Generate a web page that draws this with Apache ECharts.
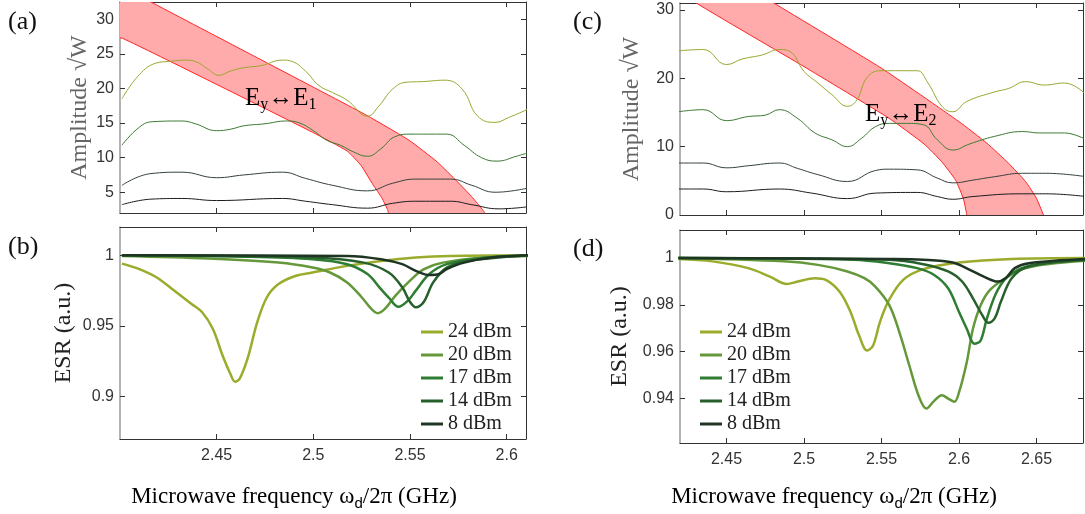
<!DOCTYPE html>
<html>
<head>
<meta charset="utf-8">
<script src="https://cdn.jsdelivr.net/npm/echarts@6/dist/echarts.min.js"></script>
<style>
  html, body { margin: 0; padding: 0; background: #fff; }
  #chart { width: 1085px; height: 514px; }
</style>
</head>
<body>
<div id="chart"></div>
<script>
// ---- data ----
// tick labels
var xTicksL = [2.45, 2.5, 2.55, 2.6];
var xTicksR = [2.45, 2.5, 2.55, 2.6, 2.65];
var yTicksA = [5, 10, 15, 20, 25, 30];
var yTicksB = [0.9, 0.95, 1];
var yTicksC = [0, 10, 20, 30];
var yTicksD = [0.94, 0.96, 0.98, 1];

var powers = ['24 dBm', '20 dBm', '17 dBm', '14 dBm', '8 dBm'];

// (a) amplitude curves  [GHz, sqrt(W)]
var ampA1 = [[2.401,18.5],[2.410,22.0],[2.419,23.7],[2.425,23.9],[2.434,24.1],[2.439,23.9],[2.446,22.7],[2.451,21.9],[2.457,22.5],[2.464,23.0],[2.473,23.3],[2.484,24.1],[2.489,23.9],[2.496,22.5],[2.503,20.4],[2.510,19.4],[2.518,18.2],[2.525,16.3],[2.528,16.0],[2.534,17.5],[2.541,19.9],[2.548,20.9],[2.557,21.0],[2.568,21.2],[2.577,19.9],[2.585,16.0],[2.594,15.1],[2.601,15.8],[2.611,17.0]];
var ampA2 = [[2.401,11.8],[2.410,14.4],[2.417,15.2],[2.432,15.3],[2.439,14.9],[2.450,13.9],[2.457,14.1],[2.464,14.6],[2.475,14.9],[2.486,15.3],[2.493,15.0],[2.500,13.9],[2.507,12.5],[2.514,11.8],[2.521,10.8],[2.528,10.2],[2.535,11.3],[2.542,13.0],[2.550,13.4],[2.560,13.4],[2.569,13.4],[2.578,11.8],[2.587,10.0],[2.595,9.5],[2.605,10.2],[2.611,10.7]];
var ampA3 = [[2.401,6.0],[2.416,7.7],[2.432,7.9],[2.450,7.1],[2.464,7.5],[2.484,7.9],[2.496,7.0],[2.510,6.0],[2.528,5.2],[2.541,6.3],[2.553,6.9],[2.571,6.9],[2.582,6.0],[2.594,5.0],[2.611,5.6]];
var ampA4 = [[2.401,3.2],[2.416,4.0],[2.432,4.1],[2.450,3.8],[2.484,4.1],[2.496,3.7],[2.510,3.2],[2.528,2.7],[2.541,3.4],[2.553,3.7],[2.571,3.7],[2.582,3.2],[2.596,2.6],[2.611,2.9]];
// (a) E_y <-> E_1 band edges
var bandAUpper = [[2.39,36.5],[2.416,32.5],[2.5264,16.3],[2.5496,12.5],[2.564,9.4],[2.5746,6.5],[2.5818,4.4],[2.588,2.3],[2.590,1.0]];
var bandALower = [[2.39,27.8],[2.4014,27.24],[2.4996,13.67],[2.5175,10.95],[2.5246,8.9],[2.5309,6.07],[2.5354,4.2],[2.5386,2.33],[2.5395,1.0]];

// (c) amplitude curves
var ampC1 = [[2.419,24.0],[2.435,24.2],[2.450,22.0],[2.460,22.8],[2.473,23.4],[2.484,24.2],[2.491,23.9],[2.500,21.0],[2.509,19.3],[2.518,17.6],[2.528,15.9],[2.534,16.8],[2.541,20.2],[2.550,21.1],[2.564,21.1],[2.573,21.1],[2.580,19.3],[2.589,15.9],[2.596,15.1],[2.605,16.6],[2.623,18.0],[2.632,18.5],[2.643,19.5],[2.655,19.0],[2.668,19.3],[2.682,17.6]];
var ampC2 = [[2.419,15.1],[2.435,15.4],[2.450,13.8],[2.464,14.4],[2.475,14.6],[2.484,15.4],[2.496,14.1],[2.507,12.0],[2.518,11.0],[2.528,10.0],[2.537,11.2],[2.546,12.9],[2.555,13.4],[2.566,13.4],[2.577,13.2],[2.586,11.0],[2.596,9.5],[2.607,10.4],[2.623,11.5],[2.641,12.2],[2.652,12.0],[2.668,12.0],[2.682,11.0]];
var ampC3 = [[2.419,7.6],[2.435,7.6],[2.450,6.9],[2.464,7.2],[2.484,7.6],[2.496,6.8],[2.509,5.9],[2.528,4.9],[2.546,6.5],[2.555,6.7],[2.573,6.6],[2.586,5.4],[2.596,4.7],[2.609,5.1],[2.623,5.6],[2.641,6.1],[2.656,6.1],[2.682,5.6]];
var ampC4 = [[2.419,3.8],[2.435,3.8],[2.450,3.4],[2.484,3.8],[2.505,3.2],[2.528,2.4],[2.546,3.2],[2.573,3.3],[2.586,2.7],[2.596,2.3],[2.609,2.7],[2.641,3.1],[2.656,3.1],[2.682,2.7]];
// (c) E_y <-> E_2 band edges
var bandCUpper = [[2.47,32.5],[2.48,31.07],[2.55,21.46],[2.60,13.66],[2.618,10.5],[2.632,7.56],[2.643,4.88],[2.650,2.44],[2.6545,0],[2.656,-1]];
var bandCLower = [[2.425,32.5],[2.43,31.07],[2.50,21.7],[2.5548,14.15],[2.5774,10.4],[2.5888,7.8],[2.5978,5.1],[2.6028,2.4],[2.605,0],[2.605,-1]];

// (b) ESR
var esrB24 = [[2.401,0.9941],[2.410,0.9902],[2.419,0.9843],[2.428,0.975],[2.437,0.9656],[2.4425,0.9597],[2.448,0.948],[2.453,0.9293],[2.457,0.9164],[2.4595,0.9105],[2.462,0.9129],[2.466,0.927],[2.471,0.9527],[2.476,0.9703],[2.482,0.9796],[2.491,0.9855],[2.4996,0.9878],[2.5175,0.9925],[2.535,0.996],[2.553,0.9984],[2.571,0.9995],[2.611,1.0]];
var esrB20 = [[2.401,0.9995],[2.446,0.9977],[2.482,0.9948],[2.4996,0.9913],[2.5086,0.9878],[2.5175,0.9808],[2.525,0.9703],[2.530,0.962],[2.5332,0.959],[2.537,0.962],[2.5425,0.9714],[2.550,0.982],[2.557,0.990],[2.567,0.9948],[2.589,0.9984],[2.611,0.9995]];
var esrB17 = [[2.401,1.0],[2.465,0.999],[2.4996,0.9972],[2.5175,0.9937],[2.528,0.9867],[2.535,0.976],[2.539,0.970],[2.544,0.9635],[2.549,0.968],[2.553,0.975],[2.560,0.9867],[2.569,0.9937],[2.589,0.9984],[2.611,0.9997]];
var esrB14 = [[2.401,1.0],[2.4996,0.9984],[2.526,0.9948],[2.539,0.9878],[2.546,0.9773],[2.550,0.967],[2.553,0.9632],[2.557,0.9667],[2.562,0.9808],[2.569,0.9913],[2.580,0.996],[2.611,1.0]];
var esrB8 = [[2.401,1.0],[2.5175,0.9995],[2.535,0.9972],[2.546,0.9937],[2.553,0.989],[2.560,0.986],[2.565,0.9867],[2.569,0.9902],[2.578,0.9948],[2.592,0.9984],[2.611,1.0]];

// (d) ESR
var esrD24 = [[2.419,0.9996],[2.441,0.9986],[2.464,0.9957],[2.478,0.9921],[2.489,0.9889],[2.496,0.99],[2.507,0.9914],[2.514,0.9907],[2.523,0.9856],[2.530,0.977],[2.5355,0.967],[2.5407,0.9605],[2.5446,0.9627],[2.549,0.9727],[2.5548,0.982],[2.564,0.9907],[2.577,0.9953],[2.600,0.9981],[2.634,0.9996],[2.682,1.0]];
var esrD20 = [[2.419,1.0],[2.487,0.9986],[2.509,0.9971],[2.528,0.9943],[2.539,0.9914],[2.546,0.9878],[2.555,0.9799],[2.5615,0.9684],[2.568,0.954],[2.574,0.9411],[2.579,0.9357],[2.584,0.939],[2.589,0.9414],[2.593,0.94],[2.597,0.9386],[2.600,0.9426],[2.605,0.9555],[2.609,0.9698],[2.614,0.9799],[2.620,0.9864],[2.630,0.9914],[2.641,0.9953],[2.657,0.9974],[2.682,0.9989]];
var esrD17 = [[2.419,1.0],[2.532,0.9993],[2.555,0.9978],[2.573,0.9957],[2.584,0.9928],[2.593,0.9871],[2.600,0.977],[2.605,0.9698],[2.610,0.9634],[2.614,0.9648],[2.618,0.9742],[2.625,0.9864],[2.634,0.9935],[2.650,0.9974],[2.682,0.999]];
var esrD14 = [[2.419,1.0],[2.555,0.9993],[2.577,0.9974],[2.593,0.9943],[2.602,0.99],[2.609,0.9828],[2.615,0.9756],[2.619,0.9724],[2.623,0.9742],[2.627,0.9813],[2.634,0.9914],[2.645,0.9964],[2.682,0.9993]];
var esrD8 = [[2.419,1.0],[2.555,0.9996],[2.577,0.9993],[2.596,0.9981],[2.607,0.995],[2.616,0.9921],[2.625,0.99],[2.630,0.9914],[2.636,0.9957],[2.645,0.9978],[2.682,0.9996]];

// ---- styling ----
var ampColors = ['#9aa62e', '#3d7a33', '#35423a', '#1c1c1c'];
var esrColors = ['#9bab2b', '#64983a', '#2f7d32', '#27602c', '#1f3524'];
var serif = '"Liberation Serif", "Times New Roman", serif';
var sans = '"Liberation Sans", Arial, sans-serif';

var chart = echarts.init(document.getElementById('chart'));

function makeAxis(gridIndex, min, max, position, ticks, showLabel, lineColor, lineWidth, margin) {
    return {
        type: 'value', gridIndex: gridIndex, min: min, max: max, position: position,
        axisLine: { show: true, onZero: false, lineStyle: { color: lineColor, width: lineWidth } },
        axisTick: { show: true, inside: true, length: 5, customValues: ticks, lineStyle: { color: '#333', width: 1 } },
        axisLabel: { show: showLabel, customValues: ticks, margin: margin, color: '#333', fontFamily: sans, fontSize: 16 },
        splitLine: { show: false }
    };
}

var grids = [
    { left: 120, top: 2, width: 406, height: 211 },
    { left: 120, top: 227, width: 406, height: 212 },
    { left: 680, top: 3, width: 403, height: 212 },
    { left: 680, top: 230, width: 403, height: 213 }
];

var xAxes = [
    makeAxis(0, 2.40, 2.61, 'bottom', xTicksL, false, '#333', 1, 9),
    makeAxis(0, 2.40, 2.61, 'top', xTicksL, false, '#333', 1, 9),
    makeAxis(1, 2.40, 2.61, 'bottom', xTicksL, true, '#333', 1, 9),
    makeAxis(1, 2.40, 2.61, 'top', xTicksL, false, '#333', 1, 9),
    makeAxis(2, 2.42, 2.68, 'bottom', xTicksR, false, '#333', 1, 9),
    makeAxis(2, 2.42, 2.68, 'top', xTicksR, false, '#333', 1, 9),
    makeAxis(3, 2.42, 2.68, 'bottom', xTicksR, true, '#333', 1, 9),
    makeAxis(3, 2.42, 2.68, 'top', xTicksR, false, '#333', 1, 9)
];

var yAxes = [
    makeAxis(0, 2, 32.5, 'left', yTicksA, true, '#9a9a9a', 1.5, 6),
    makeAxis(0, 2, 32.5, 'right', yTicksA, false, '#333', 1, 6),
    makeAxis(1, 0.87, 1.02, 'left', yTicksB, true, '#9a9a9a', 1.5, 6),
    makeAxis(1, 0.87, 1.02, 'right', yTicksB, false, '#333', 1, 6),
    makeAxis(2, 0, 31, 'left', yTicksC, true, '#9a9a9a', 1.5, 6),
    makeAxis(2, 0, 31, 'right', yTicksC, false, '#333', 1, 6),
    makeAxis(3, 0.921, 1.012, 'left', yTicksD, true, '#9a9a9a', 1.5, 6),
    makeAxis(3, 0.921, 1.012, 'right', yTicksD, false, '#333', 1, 6)
];

// y axis titles
function yName(axis, text, gap, color) {
    axis.name = text;
    axis.nameLocation = 'middle';
    axis.nameGap = gap;
    axis.nameRotate = 90;
    axis.nameTextStyle = { fontFamily: serif, fontSize: 24, color: color };
}
yName(yAxes[0], 'Amplitude √W', 28, '#666');
yName(yAxes[2], 'ESR (a.u.)', 44, '#222');
yName(yAxes[4], 'Amplitude √W', 36, '#666');
yName(yAxes[6], 'ESR (a.u.)', 48, '#222');

var series = [];

function band(g, upper, lower) {
    var poly = upper.concat(lower.slice().reverse());
    series.push({
        type: 'custom', xAxisIndex: 2 * g, yAxisIndex: 2 * g, clip: true, z: 1,
        data: [poly[0]],
        renderItem: function (params, api) {
            var pts = poly.map(function (p) { return api.coord(p); });
            return {
                type: 'polygon',
                shape: { points: pts, smooth: 0.15 },
                style: { fill: '#ffabab', stroke: '#ff2626', lineWidth: 1 }
            };
        }
    });
}

function line(g, data, color, width, name, smooth) {
    series.push({
        type: 'line', name: name, xAxisIndex: 2 * g, yAxisIndex: 2 * g,
        data: data, showSymbol: false, smooth: smooth, z: 3,
        lineStyle: { color: color, width: width },
        itemStyle: { color: color }
    });
}

band(0, bandAUpper, bandALower);
[ampA1, ampA2, ampA3, ampA4].forEach(function (d, i) { line(0, d, ampColors[i], 1, undefined, 0.45); });
[esrB24, esrB20, esrB17, esrB14, esrB8].forEach(function (d, i) { line(1, d, esrColors[i], 2.5, powers[i], 0.35); });
band(2, bandCUpper, bandCLower);
[ampC1, ampC2, ampC3, ampC4].forEach(function (d, i) { line(2, d, ampColors[i], 1, undefined, 0.45); });
[esrD24, esrD20, esrD17, esrD14, esrD8].forEach(function (d, i) { line(3, d, esrColors[i], 2.5, powers[i], 0.35); });

function legendAt(left) {
    return {
        data: powers, orient: 'vertical', left: left, top: 322, padding: 0,
        icon: 'rect', itemWidth: 22, itemHeight: 3, itemGap: 3, selectedMode: false,
        textStyle: { fontFamily: serif, fontSize: 20, color: '#222' }
    };
}

var subRich = {
    n: { fontFamily: serif, fontSize: 25, color: '#111', lineHeight: 30 },
    s: { fontFamily: serif, fontSize: 16, color: '#111', lineHeight: 12, verticalAlign: 'bottom' }
};
var titleRich = {
    n: { fontFamily: serif, fontSize: 23, color: '#333', lineHeight: 28 },
    s: { fontFamily: sans, fontSize: 15, color: '#333', lineHeight: 11, verticalAlign: 'bottom' }
};

function label(text, x, y) {
    return { type: 'text', x: x, y: y, style: { text: text, font: '26px ' + serif, fill: '#111', verticalAlign: 'middle' } };
}

var graphics = [
    label('(a)', 8, 22), label('(b)', 8, 247), label('(c)', 573, 22), label('(d)', 573, 249),
    { type: 'text', x: 245, y: 98, z: 10, style: { text: '{n|E}{s|y}{n|↔E}{s|1}', rich: subRich, verticalAlign: 'middle' } },
    { type: 'text', x: 865, y: 114, z: 10, style: { text: '{n|E}{s|y}{n|↔E}{s|2}', rich: subRich, verticalAlign: 'middle' } },
    { type: 'text', x: 294, y: 497, style: { text: '{n|Microwave frequency ω}{s|d}{n|/2π (GHz)}', rich: titleRich, align: 'center', verticalAlign: 'middle' } },
    { type: 'text', x: 834, y: 497, style: { text: '{n|Microwave frequency ω}{s|d}{n|/2π (GHz)}', rich: titleRich, align: 'center', verticalAlign: 'middle' } }
];

chart.setOption({
    animation: false,
    backgroundColor: '#fff',
    grid: grids,
    xAxis: xAxes,
    yAxis: yAxes,
    legend: [legendAt(421), legendAt(700)],
    graphic: graphics,
    series: series
});
</script>
</body>
</html>
